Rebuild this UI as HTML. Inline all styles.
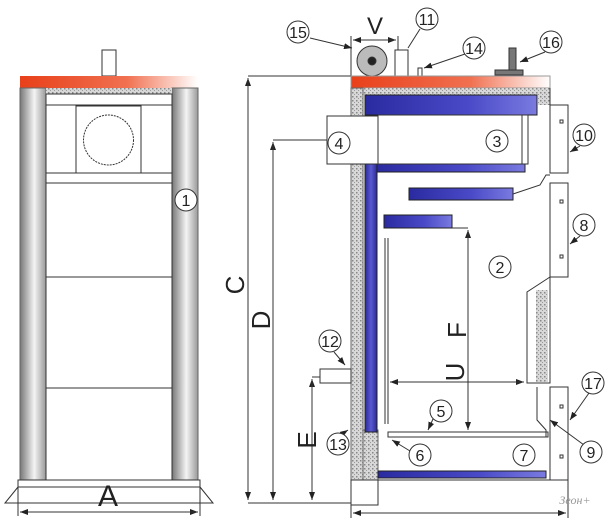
<!DOCTYPE html>
<html><head><meta charset="utf-8"><style>
html,body{margin:0;padding:0;background:#fff;}
svg{display:block;}
text{font-family:"Liberation Sans",sans-serif;fill:#222;}
</style></head><body>
<svg width="608" height="520" viewBox="0 0 608 520" xmlns="http://www.w3.org/2000/svg">
<defs>
<linearGradient id="org" x1="0" x2="1"><stop offset="0" stop-color="#e8401a"/><stop offset="0.6" stop-color="#f07050"/><stop offset="1" stop-color="#fff"/></linearGradient>
<linearGradient id="col" x1="0" x2="1"><stop offset="0" stop-color="#777"/><stop offset="0.55" stop-color="#f4f4f4"/><stop offset="1" stop-color="#999"/></linearGradient>
<linearGradient id="blu" x1="0" x2="1"><stop offset="0" stop-color="#2a2a9a"/><stop offset="0.5" stop-color="#5a5ad0"/><stop offset="1" stop-color="#2a2a9a"/></linearGradient>
<linearGradient id="bluv" x1="0" y1="0" x2="1" y2="0"><stop offset="0" stop-color="#2a2aa0"/><stop offset="0.6" stop-color="#4a4ac8"/><stop offset="1" stop-color="#7a7ae0"/></linearGradient>
<pattern id="ins" width="4" height="4" patternUnits="userSpaceOnUse"><rect width="4" height="4" fill="#d8d8d8"/><rect width="1.5" height="1.5" fill="#888"/><rect x="2" y="2" width="1" height="1" fill="#999"/></pattern>
<marker id="ar" markerWidth="8" markerHeight="6" refX="8" refY="3" orient="auto"><path d="M0,0L8,3L0,6z" fill="#222"/></marker>
</defs>
<g stroke="#333" stroke-width="1" fill="none">
<!-- LEFT VIEW -->
<rect x="102" y="50" width="14" height="26" fill="#fff"/>
<rect x="20" y="76" width="178" height="12" fill="url(#org)" stroke="none"/>
<rect x="20" y="88" width="26" height="392" fill="url(#col)" stroke="#666"/>
<rect x="172" y="88" width="26" height="392" fill="url(#col)" stroke="#666"/>
<rect x="46" y="88" width="126" height="6" fill="url(#ins)" stroke="none"/>
<rect x="46" y="94" width="126" height="386" fill="#fff"/>
<line x1="46" y1="105" x2="172" y2="105"/>
<rect x="76" y="106" width="65" height="67" fill="#fff"/>
<circle cx="108.5" cy="140" r="25" stroke-dasharray="2,1"/>
<line x1="46" y1="173" x2="172" y2="173"/>
<line x1="46" y1="183" x2="172" y2="183"/>
<line x1="46" y1="277" x2="172" y2="277"/>
<line x1="46" y1="388" x2="172" y2="388"/>
<rect x="18" y="480" width="182" height="7" fill="#fff"/>
<path d="M18,487L5,503L213,503L200,487"/>
<line x1="18" y1="483" x2="18" y2="516"/><line x1="200" y1="483" x2="200" y2="516"/>
<line x1="20" y1="512" x2="198" y2="512" marker-end="url(#ar)"/>
<line x1="198" y1="512" x2="20" y2="512" marker-end="url(#ar)"/>
<circle cx="186" cy="200" r="11" fill="#fff"/>

<!-- RIGHT VIEW -->
<line x1="248" y1="76" x2="351" y2="76"/>
<line x1="248" y1="500" x2="248" y2="78" marker-end="url(#ar)"/>
<line x1="248" y1="78" x2="248" y2="500" marker-end="url(#ar)"/>
<line x1="273" y1="140" x2="327" y2="140"/>
<line x1="273" y1="500" x2="273" y2="142" marker-end="url(#ar)"/>
<line x1="273" y1="142" x2="273" y2="500" marker-end="url(#ar)"/>
<line x1="312" y1="377" x2="322" y2="377"/>
<line x1="312" y1="500" x2="312" y2="379" marker-end="url(#ar)"/>
<line x1="312" y1="379" x2="312" y2="500" marker-end="url(#ar)"/>
<line x1="248" y1="503" x2="378" y2="503"/>
<line x1="351" y1="36" x2="351" y2="76"/><line x1="398" y1="36" x2="398" y2="50"/>
<line x1="353" y1="40" x2="396" y2="40" marker-end="url(#ar)"/>
<line x1="396" y1="40" x2="353" y2="40" marker-end="url(#ar)"/>
<circle cx="372" cy="61" r="15" fill="#bbb"/><circle cx="372" cy="61" r="4" fill="#222"/>
<rect x="395" y="50" width="13" height="26" fill="#fff"/>
<rect x="418" y="68" width="4" height="8" fill="#fff"/>
<rect x="495" y="70" width="28" height="5" fill="#777"/>
<rect x="509" y="48" width="7" height="22" fill="#777"/>
<rect x="351" y="76" width="199" height="12" fill="url(#org)" stroke="#999"/>
<rect x="351" y="88" width="187" height="7" fill="url(#ins)" stroke="none"/>
<rect x="538" y="88" width="12" height="17" fill="url(#ins)" stroke="none"/>
<rect x="351" y="88" width="12" height="392" fill="url(#ins)" stroke="#666"/>
<rect x="363" y="430" width="15" height="50" fill="url(#ins)" stroke="#666"/>
<rect x="365" y="95" width="172" height="20" fill="url(#bluv)" stroke="#222"/>
<rect x="365" y="164" width="12" height="268" fill="url(#blu)" stroke="#222"/>
<rect x="377" y="164" width="148" height="8" fill="url(#bluv)" stroke="#222"/>
<rect x="378" y="115" width="150" height="49" fill="#fff"/>
<line x1="522" y1="115" x2="522" y2="164"/>
<rect x="327" y="116" width="51" height="48" fill="#fff"/>
<line x1="378" y1="116" x2="378" y2="164"/>
<rect x="409" y="188" width="104" height="12" fill="url(#bluv)" stroke="#222"/>
<path d="M513,194L540,185L546,175L550,175"/>
<rect x="384" y="215" width="68" height="13" fill="url(#bluv)" stroke="#222"/>
<line x1="452" y1="228" x2="468" y2="228"/>
<line x1="385" y1="238" x2="385" y2="424"/><line x1="388" y1="238" x2="388" y2="424"/>
<rect x="388" y="432" width="160" height="5" fill="#fff"/>
<rect x="378" y="471" width="168" height="7" fill="url(#bluv)" stroke="#222"/>
<line x1="378" y1="480" x2="568" y2="480"/>
<rect x="351" y="480" width="27" height="25" fill="#fff"/>
<line x1="550" y1="88" x2="550" y2="105"/>
<rect x="550" y="105" width="18" height="68" fill="#fff"/>
<rect x="550" y="183" width="18" height="94" fill="#fff"/>
<path d="M550,277L527,292L527,383L550,383Z" fill="#fff"/>
<rect x="536" y="290" width="12" height="92" fill="url(#ins)" stroke="none"/>
<rect x="550" y="387" width="18" height="93" fill="#fff"/>
<path d="M537,387L537,420L546,430L546,437"/>
<rect x="560" y="120" width="3" height="3"/><rect x="560" y="200" width="3" height="3"/><rect x="560" y="255" width="3" height="3"/><rect x="560" y="405" width="3" height="3"/><rect x="560" y="455" width="3" height="3"/>
<line x1="351" y1="505" x2="351" y2="518"/><line x1="568" y1="480" x2="568" y2="518"/>
<line x1="353" y1="513" x2="566" y2="513" marker-end="url(#ar)"/>
<line x1="566" y1="513" x2="353" y2="513" marker-end="url(#ar)"/>
<rect x="320" y="369" width="31" height="14" fill="#fff"/>
<line x1="390" y1="382" x2="524" y2="382" marker-end="url(#ar)"/>
<line x1="524" y1="382" x2="390" y2="382" marker-end="url(#ar)"/>
<line x1="468" y1="430" x2="468" y2="230" marker-end="url(#ar)"/>
<line x1="468" y1="230" x2="468" y2="430" marker-end="url(#ar)"/>
<line x1="310" y1="38" x2="352" y2="48" marker-end="url(#ar)"/>
<line x1="420" y1="29" x2="408" y2="48"/>
<line x1="465" y1="54" x2="424" y2="68" marker-end="url(#ar)"/>
<line x1="545" y1="52" x2="520" y2="62" marker-end="url(#ar)"/>
<line x1="580" y1="146" x2="570" y2="152" marker-end="url(#ar)"/>
<line x1="580" y1="236" x2="570" y2="244" marker-end="url(#ar)"/>
<line x1="334" y1="352" x2="345" y2="365" marker-end="url(#ar)"/>
<line x1="433" y1="419" x2="428" y2="430" marker-end="url(#ar)"/>
<line x1="345" y1="432" x2="348" y2="430" marker-end="url(#ar)"/>
<line x1="410" y1="451" x2="392" y2="440" marker-end="url(#ar)"/>
<line x1="584" y1="445" x2="550" y2="420" marker-end="url(#ar)"/>
<line x1="589" y1="393" x2="570" y2="420" marker-end="url(#ar)"/>
<g fill="#fff">
<circle cx="298" cy="32" r="11"/><circle cx="427" cy="19" r="11"/><circle cx="474" cy="48" r="11"/><circle cx="551" cy="42" r="11"/>
<circle cx="584" cy="135" r="11"/><circle cx="497" cy="141" r="11"/><circle cx="339" cy="143" r="11"/><circle cx="584" cy="225" r="11"/>
<circle cx="500" cy="267" r="11"/><circle cx="330" cy="341" r="11"/><circle cx="441" cy="411" r="11"/><circle cx="338" cy="444" r="11"/>
<circle cx="420" cy="455" r="11"/><circle cx="524" cy="455" r="11"/><circle cx="591" cy="452" r="11"/><circle cx="593" cy="383" r="11"/>
</g>
</g>
<g font-size="16" text-anchor="middle">
<text x="186" y="206">1</text>
<text x="298" y="38">15</text><text x="427" y="25">11</text><text x="474" y="54">14</text><text x="551" y="48">16</text>
<text x="584" y="141">10</text><text x="497" y="147">3</text><text x="339" y="149">4</text><text x="584" y="231">8</text>
<text x="500" y="273">2</text><text x="330" y="347">12</text><text x="441" y="417">5</text><text x="338" y="450">13</text>
<text x="420" y="461">6</text><text x="524" y="461">7</text><text x="591" y="458">9</text><text x="593" y="389">17</text>
</g>
<g font-size="26" text-anchor="middle">
<text x="108" y="506" font-size="30">A</text>
<text x="375" y="34" font-size="24">V</text>
<text transform="translate(244,285) rotate(-90)">C</text>
<text transform="translate(270,320) rotate(-90)">D</text>
<text transform="translate(316,440) rotate(-90)">E</text>
<text transform="translate(466,330) rotate(-90)">F</text>
<text transform="translate(464,372) rotate(-90)">U</text>
</g>
<text x="575" y="504" font-size="12" font-style="italic" text-anchor="middle" style="fill:#999;font-family:'Liberation Serif',serif">Зеон+</text>
</svg>
</body></html>
